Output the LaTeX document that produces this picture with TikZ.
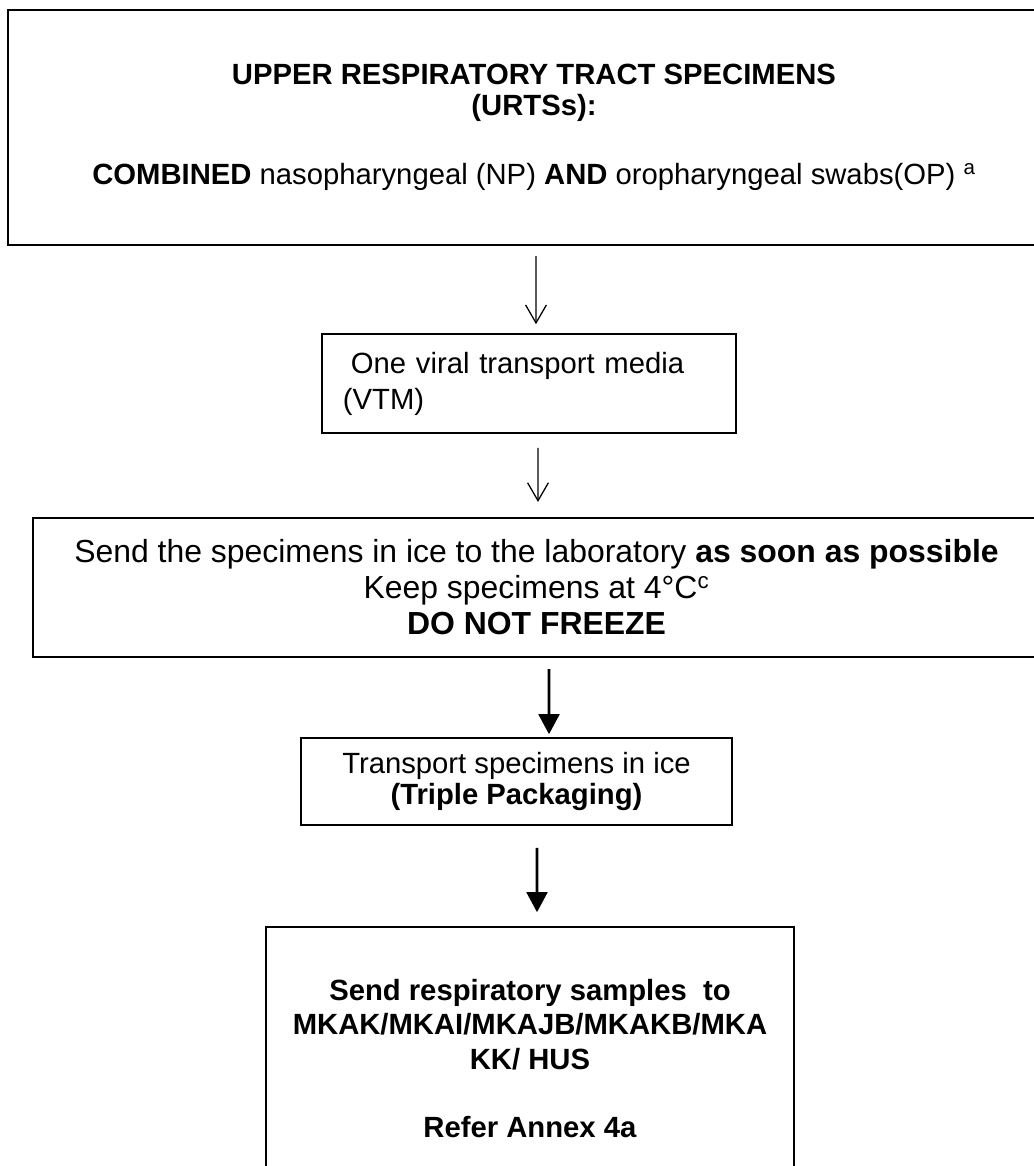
\documentclass[tikz,border=0pt]{standalone}
\usepackage{fontspec}
\setmainfont{Liberation Sans}
\usetikzlibrary{arrows.meta}

\tikzset{
  box/.style={draw,line width=1.1pt,align=center,inner sep=0pt},
  txt/.style={font=\fontsize{20.8}{22}\selectfont},
  bigtxt/.style={font=\fontsize{22.7}{25.6}\selectfont},
  openarrow/.style={-{Straight Barb[length=0.45cm,width=0.52cm]},line width=0.9pt},
  fullarrow/.style={-{Triangle[length=0.5cm,width=0.52cm]},line width=1.8pt}
}

\begin{document}
\begin{tikzpicture}[x=0.025cm,y=-0.025cm]
  \useasboundingbox (0,0) rectangle (1034,1166);
  \fill[white] (0,0) rectangle (1034,1166);

  \node (urt) at (534,127.5) [box,txt,line width=1.5pt,minimum width=26.3cm,minimum height=5.875cm]
    {\textbf{UPPER RESPIRATORY TRACT SPECIMENS}\\ \textbf{(URTSs):}\\[0.95cm]
     \textbf{COMBINED} nasopharyngeal (NP) \textbf{AND} oropharyngeal swabs(OP) \textsuperscript{a}};
  \node (vtm) at (529,383.5) [box,font=\fontsize{20.8}{25.6}\selectfont,align=left,text width=9.3cm,inner xsep=0.525cm,minimum height=2.475cm]
    {\hspace*{0.2cm}One viral transport media\\ (VTM)};
  \node (ice) at (536.5,587.5) [box,bigtxt,line width=1.4pt,minimum width=25.175cm,minimum height=3.475cm]
    {Send the specimens in ice to the laboratory \textbf{as soon as possible}\\
     Keep specimens at 4°C\textsuperscript{c}\\ \textbf{DO NOT FREEZE}};
  \node (pack) at (516.5,781.5) [box,txt,minimum width=10.775cm,minimum height=2.175cm]
    {Transport specimens in ice\\ \textbf{(Triple Packaging)}};
  \node (lab) at (530,1058.5) [box,font=\fontsize{20.8}{24.5}\selectfont,minimum width=13.2cm,minimum height=6.575cm]
    {\textbf{Send respiratory samples\ \ to}\\ \textbf{MKAK/MKAI/MKAJB/MKAKB/MKA}\\ \textbf{KK/ HUS}\\[0.85cm]
     \textbf{Refer Annex 4a}};

  \draw[openarrow] ([xshift=0.05cm,yshift=-0.25cm]urt.south) -- ([xshift=0.175cm,yshift=0.225cm]vtm.north);
  \draw[openarrow] ([xshift=0.225cm,yshift=-0.35cm]vtm.south) -- ([xshift=0.0375cm,yshift=0.375cm]ice.north);
  \draw[fullarrow] ([xshift=0.3125cm,yshift=-0.275cm]ice.south) -- ([xshift=0.8125cm,yshift=0.075cm]pack.north);
  \draw[fullarrow] ([xshift=0.5125cm,yshift=-0.55cm]pack.south) -- ([xshift=0.175cm,yshift=0.35cm]lab.north);
\end{tikzpicture}
\end{document}
